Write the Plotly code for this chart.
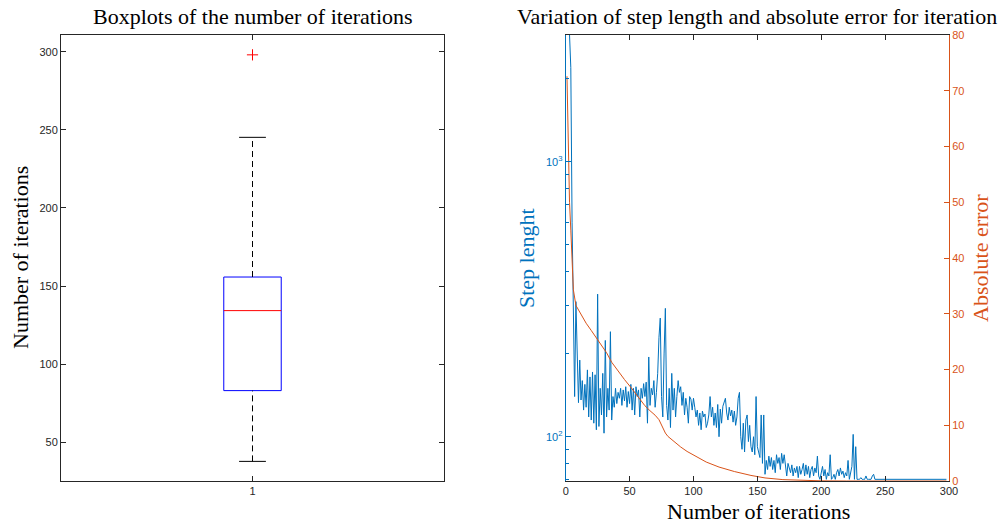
import plotly.graph_objects as go

# ---------------- Data ----------------
# Left panel: boxplot statistics of the number of iterations
box_category = [1]
box_lower_whisker = [37.8]
box_q1 = [83.1]
box_median = [134.3]
box_q3 = [155.8]
box_upper_whisker = [245.2]
box_outliers = [298]

# Right panel: step length per iteration (log axis), iterations 1..298
step_iter = list(range(1, 299))
step_len = [
    2900, 3200, 2900, 2200, 600, 335, 140, 310, 175,
    133, 190, 136, 160, 125, 155, 128, 175, 118, 165,
    115, 172, 112, 168, 106, 330, 109, 150, 120, 170,
    103, 224, 118, 150, 125, 241, 115, 140, 128, 150,
    132, 145, 138, 150, 130, 148, 135, 152, 128, 146,
    132, 155, 125, 150, 120, 152, 140, 148, 118, 150,
    138, 156, 140, 158, 112, 195, 130, 150, 142, 160,
    128, 145, 170, 230, 270, 140, 118, 200, 293, 130,
    115, 150, 108, 170, 125, 150, 118, 140, 160, 145,
    152, 130, 145, 120, 138, 128, 112, 140, 137, 125,
    138, 128, 118, 125, 110, 122, 106, 124, 118, 121,
    108, 112, 120, 140, 118, 128, 110, 122, 108, 131,
    100, 126, 112, 129, 135, 138, 122, 115, 128, 119,
    125, 113, 124, 110, 118, 138, 145, 100, 90, 112,
    88, 115, 120, 96, 110, 92, 88, 100, 86, 140,
    92, 88, 84, 120, 80, 120, 73, 82, 76, 85,
    78, 84, 76, 82, 74, 86, 80, 84, 76, 87,
    80, 86, 78, 72, 80, 76, 74, 79, 72, 77,
    74, 78, 71, 78, 73, 76, 80, 72, 79, 73,
    78, 71, 76, 78, 72, 77, 74, 85, 72, 70,
    75, 78, 72, 76, 70, 74, 72, 86, 70, 71,
    73, 70, 74, 76, 72, 77, 73, 75, 71, 74,
    72, 82, 70, 73, 78, 102, 70, 92, 70, 70,
    70, 71, 70, 70, 70, 72, 70, 70, 70, 70,
    72, 73, 70, 70, 70, 70, 70, 70, 70, 70,
    70, 70, 70, 70, 70, 70, 70, 70, 70, 70,
    70, 70, 70, 70, 70, 70, 70, 70, 70, 70,
    70, 70, 70, 70, 70, 70, 70, 70, 70, 70,
    70, 70, 70, 70, 70, 70, 70, 70, 70, 70,
    70, 70, 70, 70, 70, 70, 70, 70, 70,
]

# Right panel: absolute error per iteration (linear right axis)
err_iter = [1, 2, 3, 4, 5, 6, 8, 12, 16, 20, 24, 28, 32, 36, 40, 46, 52, 58, 62,
            66, 70, 73, 74, 75, 76, 77, 78, 80, 85, 90, 95, 100, 105, 110, 120,
            132, 145, 156, 170, 185, 200, 220, 298]
abs_err = [72.6, 58.0, 50.0, 45.0, 39.0, 34.3, 31.5, 29.8, 28.3, 27.0, 25.6,
           24.3, 23.0, 21.3, 20.0, 18.2, 16.5, 14.8, 13.5, 12.6, 11.8, 11.0, 10.5,
           9.9, 9.7, 9.2, 8.6, 8.0, 7.0, 6.1, 5.3, 4.7, 4.0, 3.4, 2.5, 1.7, 1.0,
           0.55, 0.25, 0.1, 0.03, 0.0, 0.0]

# Tick labels
left_yticks = [50, 100, 150, 200, 250, 300]
left_xticks = [1]
iter_ticks = [0, 50, 100, 150, 200, 250, 300]
err_ticks = [0, 10, 20, 30, 40, 50, 60, 70, 80]
step_ticks = [100, 1000]
step_ticktext = ["10<sup>2</sup>", "10<sup>3</sup>"]
step_minor = [70, 80, 90, 200, 300, 400, 500, 600, 700, 800, 900, 2000]

# ---------------- Style ----------------
BLUE = "#0072BD"
ORANGE = "#D95319"
AX = "#262626"
SERIF = "Liberation Serif, DejaVu Serif, serif"
SANS = "Liberation Sans, Arial, sans-serif"
W, H = 1003, 529

def px_x(p):
    return p / W

def px_y(p):
    return 1 - p / H

box_half = 0.075
cap_half = 0.035

fig = go.Figure()

c = box_category[0]
# box
fig.add_trace(go.Scatter(
    x=[c - box_half, c + box_half, c + box_half, c - box_half, c - box_half],
    y=[box_q1[0], box_q1[0], box_q3[0], box_q3[0], box_q1[0]],
    mode="lines", line=dict(color="#0000FF", width=1), xaxis="x", yaxis="y",
    showlegend=False, hoverinfo="skip"))
# whiskers
for lo, hi in [(box_q3[0], box_upper_whisker[0]), (box_lower_whisker[0], box_q1[0])]:
    fig.add_trace(go.Scatter(
        x=[c, c], y=[lo, hi], mode="lines",
        line=dict(color="black", width=1, dash="6px,4px"),
        xaxis="x", yaxis="y", showlegend=False, hoverinfo="skip"))
# caps
for v in [box_upper_whisker[0], box_lower_whisker[0]]:
    fig.add_trace(go.Scatter(
        x=[c - cap_half, c + cap_half], y=[v, v], mode="lines",
        line=dict(color="black", width=1), xaxis="x", yaxis="y",
        showlegend=False, hoverinfo="skip"))
# median
fig.add_trace(go.Scatter(
    x=[c - box_half, c + box_half], y=[box_median[0], box_median[0]],
    mode="lines", line=dict(color="#FF0000", width=1), xaxis="x", yaxis="y",
    showlegend=False, hoverinfo="skip"))
# outliers
fig.add_trace(go.Scatter(
    x=[c] * len(box_outliers), y=box_outliers, mode="markers",
    marker=dict(symbol="cross-thin", size=8, line=dict(color="#FF0000", width=1)),
    xaxis="x", yaxis="y", showlegend=False))

# right panel
fig.add_trace(go.Scatter(
    x=step_iter, y=step_len, mode="lines", line=dict(color=BLUE, width=1),
    xaxis="x2", yaxis="y2", showlegend=False))
fig.add_trace(go.Scatter(
    x=err_iter, y=abs_err, mode="lines", line=dict(color=ORANGE, width=1),
    xaxis="x2", yaxis="y3", showlegend=False))

ydom = [px_y(481), px_y(35)]
tickfont = dict(family=SANS, size=11, color=AX)
common = dict(showgrid=False, zeroline=False, showline=True, linewidth=1,
              ticks="inside", ticklen=5, tickwidth=1, automargin=False)

fig.update_layout(
    width=W, height=H,
    margin=dict(l=0, r=0, t=0, b=0),
    paper_bgcolor="white", plot_bgcolor="white",
    showlegend=False,
    xaxis=dict(domain=[px_x(61), px_x(444)], range=[0.5, 1.5], anchor="y",
               tickvals=left_xticks, ticktext=[str(t) for t in left_xticks],
               mirror="ticks", linecolor=AX, tickcolor=AX, tickfont=tickfont, **common),
    yaxis=dict(domain=ydom, range=[25.25, 310.7], anchor="x",
               tickvals=left_yticks, mirror="ticks", linecolor=AX, tickcolor=AX,
               tickfont=tickfont, **common),
    xaxis2=dict(domain=[px_x(565.7), px_x(949)], range=[0, 300], anchor="y2",
                tickvals=iter_ticks, mirror="ticks", linecolor=AX, tickcolor=AX,
                tickfont=tickfont, **common),
    yaxis2=dict(domain=ydom, type="log", range=[1.839, 3.461], anchor="x2", side="left",
                tickvals=step_ticks, ticktext=step_ticktext, linecolor=BLUE, tickcolor=BLUE,
                tickfont=dict(family=SANS, size=11, color=BLUE),
                minor=dict(tickmode="array", tickvals=step_minor, ticks="inside",
                           ticklen=3, tickcolor=BLUE, showgrid=False),
                **common),
    yaxis3=dict(domain=ydom, range=[0, 80], anchor="x2", overlaying="y2", side="right",
                tickvals=err_ticks, linecolor=ORANGE, tickcolor=ORANGE,
                tickfont=dict(family=SANS, size=11, color=ORANGE), **common),
)

TS = 22
tfont = dict(family=SERIF, size=TS, color="black")
ann = [
    dict(text="Boxplots of the number of iterations", x=px_x(252.5), y=px_y(17),
         font=tfont),
    dict(text="Variation of step length and absolute error for iteration",
         x=px_x(757), y=px_y(17), font=tfont),
    dict(text="Number of iterations", x=px_x(20), y=px_y(258), textangle=-90, font=tfont),
    dict(text="Step lenght", x=px_x(526), y=px_y(258), textangle=-90,
         font=dict(family=SERIF, size=TS, color=BLUE)),
    dict(text="Absolute error", x=px_x(980), y=px_y(258), textangle=-90,
         font=dict(family=SERIF, size=TS, color=ORANGE)),
    dict(text="Number of iterations", x=px_x(758), y=px_y(511), font=tfont),
]
for a in ann:
    fig.add_annotation(xref="paper", yref="paper", xanchor="center", yanchor="middle",
                       showarrow=False, **a)

fig.write_html(
    "out.html",
    config={"displayModeBar": False},
    post_script="document.body.style.margin='0';document.body.style.overflow='hidden';",
)
